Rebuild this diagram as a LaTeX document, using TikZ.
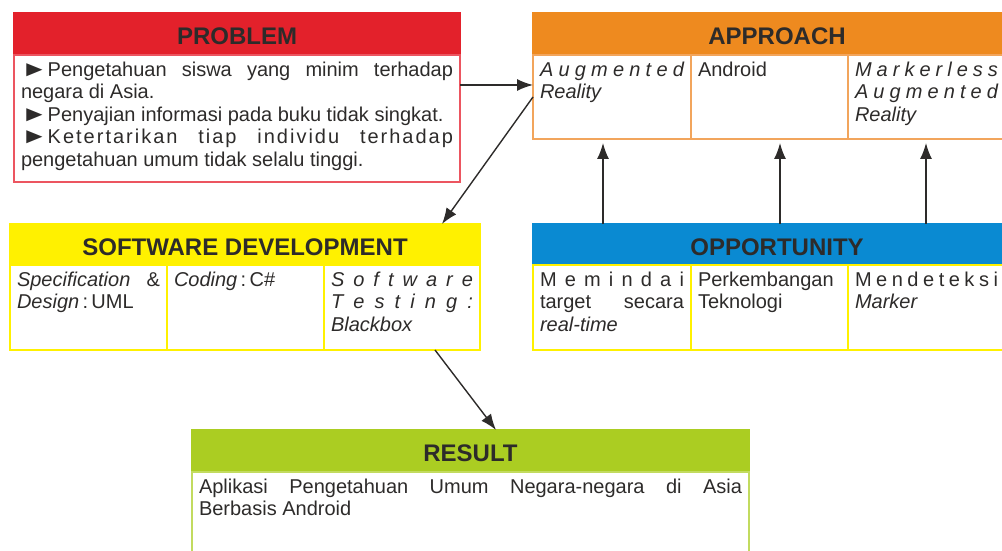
\documentclass[tikz,border=0pt]{standalone}
\usepackage{fontspec}
\setmainfont{Liberation Sans}
\usepackage{tikz}
\usetikzlibrary{arrows.meta}
\definecolor{prob_red}{HTML}{E3212B}
\definecolor{prob_line}{HTML}{EC5560}
\definecolor{appr_orange}{HTML}{EE8A1F}
\definecolor{appr_line}{HTML}{F2A55C}
\definecolor{opp_blue}{HTML}{0A8AD2}
\definecolor{swd_yellow}{HTML}{FFF100}
\definecolor{res_green}{HTML}{ABCD22}
\definecolor{res_line}{HTML}{C2DB5F}
\definecolor{txt_dark}{HTML}{2D2B2A}

\newcommand{\jl}[1]{\makebox[\linewidth][s]{#1}\\}
\newcommand{\tri}{\scalebox{1.35}[1.1]{►}}

\begin{document}
\begin{tikzpicture}[x=1pt, y=1pt, >={Latex[length=16pt,width=12pt]},
    head/.style={fill=#1, draw=#1, line width=1.5pt, anchor=north west, minimum height=42pt,
      inner sep=0pt, outer sep=0pt, text height=22pt, text depth=0pt, text=txt_dark,
      font=\fontsize{24}{24}\selectfont\bfseries},
    cell/.style={draw=#1, line width=1.5pt, anchor=north west, inner sep=7pt, outer sep=0pt,
      text=txt_dark, font=\fontsize{20}{22.5}\selectfont},
    conn/.style={->, line width=1.4pt, txt_dark}]
      \useasboundingbox (0,0) rectangle (1002,551);
      \clip (0,0) rectangle (1002,551);

      \node[head=prob_red, minimum width=446pt] (prob-head) at (14,538) {PROBLEM};
      \node[cell=prob_line] (prob-body) at (prob-head.south west) {\parbox[t][113pt][t]{432pt}{%
        \jl{\tri Pengetahuan siswa yang minim terhadap}
        negara di Asia.\\
        \tri Penyajian informasi pada buku tidak singkat.\\
        \jl{\addfontfeatures{LetterSpace=10}\tri Ketertarikan tiap individu terhadap}
        pengetahuan umum tidak selalu tinggi.}};

      \node[head=appr_orange, minimum width=488pt] (appr-head) at (533,538) {APPROACH};
      \node[cell=appr_line] (appr-a) at (appr-head.south west) {\parbox[t][70pt][t]{144pt}{%
        \jl{\itshape A u g m e n t e d}
        \textit{Reality}}};
      \node[cell=appr_line] (appr-b) at (appr-a.north east) {\parbox[t][70pt][t]{143pt}{Android}};
      \node[cell=appr_line] (appr-c) at (appr-b.north east) {\parbox[t][70pt][t]{143pt}{%
        \jl{\itshape M a r k e r l e s s}
        \jl{\itshape A u g m e n t e d}
        \textit{Reality}}};

      \node[head=swd_yellow, minimum width=470pt, minimum height=41pt] (swd-head) at (10,327) {SOFTWARE DEVELOPMENT};
      \node[cell=swd_yellow] (swd-a) at (swd-head.south west) {\parbox[t][71pt][t]{143pt}{%
        \jl{\textit{Specification} \&}
        \textit{Design}\,:\,UML}};
      \node[cell=swd_yellow] (swd-b) at (swd-a.north east) {\parbox[t][71pt][t]{143pt}{%
        \textit{Coding}\,:\,C\#}};
      \node[cell=swd_yellow] (swd-c) at (swd-b.north east) {\parbox[t][71pt][t]{142pt}{%
        \jl{\itshape S o f t w a r e}
        \jl{\itshape T e s t i n g :}
        \textit{Blackbox}}};

      \node[head=opp_blue, minimum width=488pt, minimum height=41pt] (opp-head) at (533,327) {OPPORTUNITY};
      \node[cell=swd_yellow] (opp-a) at (opp-head.south west) {\parbox[t][71pt][t]{144pt}{%
        \jl{M e m i n d a i}
        \jl{target secara}
        \textit{real-time}}};
      \node[cell=swd_yellow] (opp-b) at (opp-a.north east) {\parbox[t][71pt][t]{143pt}{%
        Perkembangan\\
        Teknologi}};
      \node[cell=swd_yellow] (opp-c) at (opp-b.north east) {\parbox[t][71pt][t]{143pt}{%
        \jl{M e n d e t e k s i}
        \textit{Marker}}};

      \node[head=res_green, minimum width=557pt] (res-head) at (192,121) {RESULT};
      \node[cell=res_line] (res-body) at (res-head.south west) {\parbox[t][86pt][t]{543pt}{%
        \jl{Aplikasi Pengetahuan Umum Negara-negara di Asia}
        Berbasis Android}};

      \draw[conn] ([yshift=-30pt]prob-body.north east) -- ([yshift=-30pt]appr-a.north west);
      \draw[conn] (appr-a.west) -- ([xshift=432pt]swd-head.north west);
      \draw[conn, shorten >=4pt] ([xshift=70pt]opp-head.north west) -- ([xshift=70pt]appr-a.south west);
      \draw[conn, shorten >=4pt] ([xshift=247pt]opp-head.north west) -- ([xshift=89pt]appr-b.south west);
      \draw[conn, shorten >=4pt] ([xshift=393pt]opp-head.north west) -- ([xshift=78pt]appr-c.south west);
      \draw[conn] ([xshift=111pt]swd-c.south west) -- ([xshift=304pt]res-head.north west);

    \end{tikzpicture}
\end{document}
